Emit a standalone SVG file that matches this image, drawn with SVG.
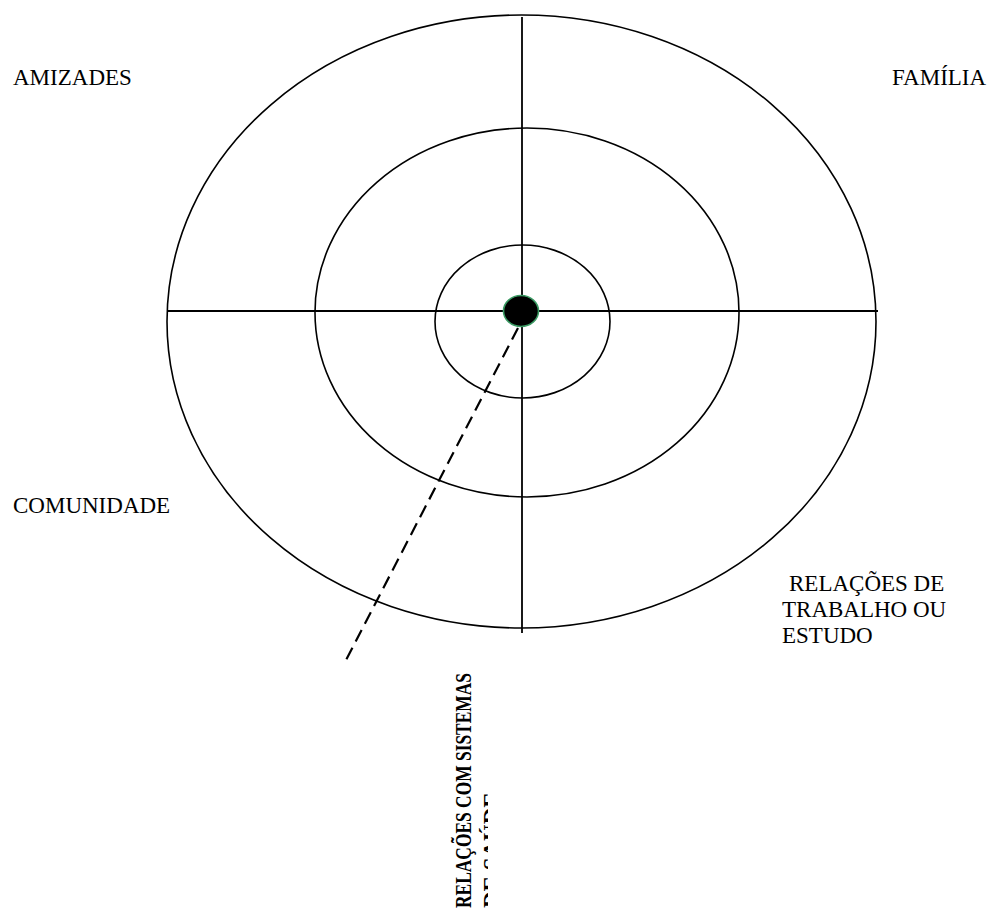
<svg xmlns="http://www.w3.org/2000/svg" width="994" height="911" viewBox="0 0 994 911">
  <style>
    .ring { fill: none; stroke: #000; stroke-width: 1.6; }
    .axis { stroke: #000; stroke-width: 1.8; }
    .dash { stroke: #000; stroke-width: 2.2; stroke-dasharray: 13 7; fill: none; }
    .lbl { font-family: "Liberation Serif", "Times New Roman", serif; font-size: 23px; fill: #000; }
    .vlbl { font-family: "Liberation Serif", "Times New Roman", serif; font-size: 23px; font-weight: bold; fill: #000; }
  </style>
  <defs>
    <clipPath id="clipV">
      <rect x="400" y="640" width="88" height="271"/>
    </clipPath>
  </defs>
  <rect width="994" height="911" fill="#fff"/>
  <g id="rings">
    <ellipse id="outer" class="ring" cx="521.5" cy="321.5" rx="354.5" ry="306.5"/>
    <ellipse id="middle" class="ring" cx="527" cy="312.5" rx="212" ry="184.5"/>
    <ellipse id="inner" class="ring" cx="522.5" cy="321.5" rx="87.5" ry="76.5"/>
  </g>
  <g id="connectors">
    <line class="axis" x1="168" y1="311" x2="878" y2="311"/>
    <line class="axis" x1="522" y1="17" x2="522" y2="633"/>
    <line class="dash" x1="518" y1="328" x2="345" y2="662"/>
  </g>
  <g id="center">
    <ellipse cx="521" cy="311" rx="17.5" ry="15.5" fill="#000" stroke="#3a9a63" stroke-width="1.6"/>
  </g>
  <g id="amizades"><text class="lbl" x="13" y="85">AMIZADES</text></g>
  <g id="familia"><text class="lbl" x="892" y="85">FAMÍLIA</text></g>
  <g id="comunidade"><text class="lbl" x="13" y="513">COMUNIDADE</text></g>
  <g id="trabalho">
    <text class="lbl" x="789" y="591">RELAÇÕES DE</text>
    <text class="lbl" x="782" y="617">TRABALHO OU</text>
    <text class="lbl" x="782" y="643">ESTUDO</text>
  </g>
  <g id="saude" clip-path="url(#clipV)">
    <text class="vlbl" transform="translate(471,908) rotate(-90)" textLength="235" lengthAdjust="spacingAndGlyphs">RELAÇÕES COM SISTEMAS</text>
    <text class="vlbl" transform="translate(499,908) rotate(-90)">DE SAÚDE</text>
  </g>
</svg>
